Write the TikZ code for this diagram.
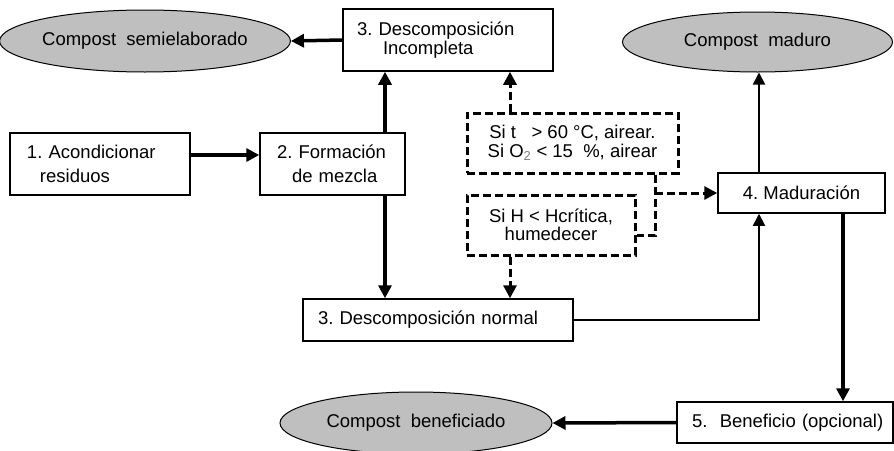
\documentclass[tikz,border=0pt]{standalone}
\usepackage{fontspec}
\setmainfont{Liberation Sans}
\usetikzlibrary{shapes.geometric,arrows.meta}
\frenchspacing
\begin{document}
\begin{tikzpicture}[x=1pt,y=-1pt,
  every node/.style={font=\fontsize{18.5}{18.5}\selectfont},
  stepbox/.style={draw, line width=1.5pt, inner ysep=0pt, minimum height=#1, align=left},
  dbox/.style={draw, line width=3pt, dash pattern=on 8pt off 4pt, inner sep=0pt, align=center},
  blob/.style={ellipse, draw, line width=1pt, fill=gray!50, inner sep=0pt},
  thickarrow/.style={line width=3.5pt, -{Triangle[length=13pt,width=13pt]}},
  thinarrow/.style={line width=1.8pt, -{Triangle[length=12pt,width=12pt]}},
  dasharrow/.style={line width=3pt, dash pattern=on 8pt off 4pt, -{Triangle[length=13pt,width=13pt]}},
  dashline/.style={line width=3pt, dash pattern=on 8pt off 4pt}]
\useasboundingbox (0,0) rectangle (894,450);
% nodes
\node[blob, minimum width=270pt, minimum height=62pt] (semi) at (145,41) {Compost\ \ semielaborado};
\node[stepbox=62pt, inner xsep=14pt, text width=182pt] (inc) at (448,40) {\mbox{3. Descomposición}\\[0pt]\mbox{\hspace*{26pt}Incompleta}};
\node[stepbox=62pt, inner xsep=17pt, text width=146pt] (acon) at (100,164) {\mbox{1. Acondicionar}\\[5pt]\mbox{\hspace*{13pt}residuos}};
\node[stepbox=62pt, inner xsep=17pt, text width=111pt] (form) at (332.5,164) {\mbox{2. Formación}\\[5pt]\mbox{\hspace*{15pt}de mezcla}};
\node[dbox, minimum width=211pt, minimum height=60pt] (cond1) at (572.5,143) {Si t\ \ \ > 60 °C, airear.\\[0pt]Si O{\color{gray}\textsubscript{2}} < 15\ \ \%, airear};
\node[dbox, minimum width=168pt, minimum height=60pt] (cond2) at (551,225) {Si H < Hcrítica,\\[-1pt]humedecer};
\node[stepbox=42pt, inner xsep=15pt, text width=240pt] (norm) at (438,320) {\mbox{3. Descomposición normal}};
\node[stepbox=40pt, minimum width=167pt, align=center] (mad) at (801.5,193) {4. Maduración};
\node[blob, minimum width=270pt, minimum height=60pt] (madu) at (757.5,42) {Compost\ \ maduro};
\node[stepbox=41pt, inner xsep=15pt, text width=186pt] (benef) at (785,422.5) {\mbox{5.\ \ Beneficio (opcional)}};
\node[blob, minimum width=272pt, minimum height=62pt] (benefc) at (416,423) {Compost\ \ beneficiado};
% connectors
\draw[thickarrow] (inc.west) -- (semi.east);
\draw[thickarrow] ([yshift=9pt]acon.east) -- ([yshift=9pt]form.west);
\draw[thickarrow] ([xshift=52.5pt]form.north) -- ([xshift=52.5pt]form.north |- inc.south);
\draw[thickarrow] ([xshift=52.5pt]form.south) -- ([xshift=52.5pt]form.south |- norm.north);
\draw[dasharrow] ([xshift=-62.5pt]cond1.north) -- ([xshift=-62.5pt]cond1.north |- inc.south);
\draw[dasharrow] ([xshift=-41pt]cond2.south) -- ([xshift=-41pt]cond2.south |- norm.north);
\draw[dashline] ([xshift=82.5pt]cond1.south) |- ([yshift=-10pt]cond2.east);
\coordinate (j) at ([xshift=82.5pt]cond1.south |- mad.west);
\draw[dasharrow] (j) -- (mad.west);
\draw[thinarrow] ([xshift=-42.5pt]mad.north) -- ([xshift=-42.5pt]mad.north |- madu.south);
\draw[thinarrow] (norm.east) -| ([xshift=-42.5pt]mad.south);
\draw[thickarrow] ([xshift=41.5pt]mad.south) -- ([xshift=41.5pt]mad.south |- benef.north);
\draw[thickarrow] (benef.west) -- (benefc.east);
\end{tikzpicture}
\end{document}
